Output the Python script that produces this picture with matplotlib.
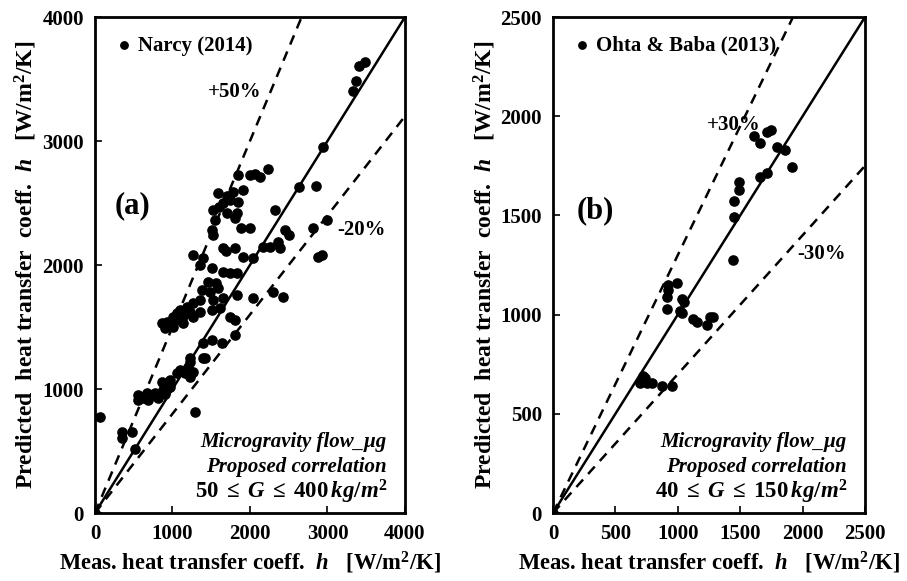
import numpy as np
import matplotlib.pyplot as plt

# Panel (a): Narcy (2014)
narcy_meas = [3484, 3406, 3368, 3329, 2942, 2632, 2852, 2323, 2994, 2813,
              2452, 2503, 1845, 2000, 2129, 2232, 2065, 1587, 1781, 1910,
              1652, 1742, 1845, 1523, 1703, 1832, 1548, 1806, 1510, 1523,
              1884, 2000, 1652, 1806, 2168, 2258, 2361, 2387, 1265, 1394,
              1910, 2039, 2877, 2929, 1355, 1510, 1690, 1652, 1742, 1832,
              1458, 1561, 1381, 1484, 1587, 1832, 1652, 1523, 1355, 1265,
              1187, 1097, 1058, 1006, 929, 865, 903, 1006, 1135, 1265,
              1355, 1510, 1613, 2039, 2297, 2426, 1742, 1806, 1806, 1510,
              1639, 1394, 1226, 1394, 65, 348, 477, 348, 516, 555,
              671, 774, 877, 555, 684, 813, 865, 968, 1058, 1097,
              1200, 1226, 1161, 1226, 1265, 968, 929, 1419, 1290, 0,
              1050, 1150, 1220, 960, 1100, 620, 730, 900, 1600, 1700]
narcy_pred = [3637, 3605, 3484, 3403, 2952, 2629, 2637, 2444, 2363, 2298,
              2282, 2242, 2726, 2726, 2710, 2774, 2734, 2581, 2589, 2605,
              2500, 2524, 2508, 2444, 2419, 2419, 2363, 2379, 2282, 2242,
              2298, 2298, 2137, 2137, 2145, 2145, 2185, 2137, 2081, 2056,
              2065, 2056, 2065, 2081, 2000, 1976, 2110, 1944, 1935, 1935,
              1863, 1855, 1798, 1782, 1815, 1758, 1734, 1718, 1718, 1694,
              1661, 1637, 1613, 1581, 1540, 1532, 1492, 1500, 1532, 1581,
              1621, 1637, 1653, 1734, 1782, 1742, 1581, 1556, 1435, 1395,
              1371, 1371, 1250, 1250, 774, 653, 653, 605, 516, 952,
              968, 968, 992, 911, 911, 927, 1056, 1073, 1129, 1153,
              1177, 1218, 1129, 1097, 1137, 1016, 1048, 1250, 815, 0,
              1560, 1600, 1620, 1520, 1580, 930, 950, 960, 2470, 2560]

# Panel (b): Ohta & Baba (2013)
ohta_meas = [1611, 1659, 1715, 1747, 1795, 1859, 1915, 1659, 1715, 1490,
             1490, 1450, 1450, 1442, 921, 994, 921, 913, 1034, 1050,
             913, 1018, 1034, 1122, 1154, 1234, 1258, 1282, 721, 713,
             697, 753, 793, 873, 954, 737, 0]
ohta_pred = [1900, 1865, 1920, 1930, 1845, 1830, 1744, 1694, 1714, 1668,
             1628, 1573, 1492, 1275, 1149, 1159, 1124, 1089, 1079, 1063,
             1028, 1018, 1008, 978, 963, 948, 988, 988, 691, 670,
             655, 655, 655, 640, 640, 680, 0]

plt.rcParams['font.family'] = 'Liberation Serif'
plt.rcParams['font.weight'] = 'bold'
plt.rcParams['axes.labelweight'] = 'bold'
plt.rcParams['mathtext.fontset'] = 'custom'
plt.rcParams['mathtext.rm'] = 'Liberation Serif:bold'
plt.rcParams['mathtext.it'] = 'Liberation Serif:italic:bold'
plt.rcParams['mathtext.bf'] = 'Liberation Serif:bold'

fig = plt.figure(figsize=(9.07, 5.81), dpi=100)
ax_a = fig.add_axes([0.1047, 0.117, 0.3418, 0.8537])
ax_b = fig.add_axes([0.6097, 0.117, 0.344, 0.8537])

xlab = r"Meas. heat transfer coeff.  $h$   [W/m$^2$/K]"
ylab = r"Predicted  heat transfer  coeff.  $h$   [W/m$^2$/K]"


def setup(ax, lim, step, name, upper, lower, up_lbl, lo_lbl, up_pos, lo_pos,
          tag, tag_pos, grange, xs, ys):
    ax.scatter(xs, ys, s=44, color='black', zorder=3, label=name)
    line = np.array([0, lim])
    ax.plot(line, line, color='black', lw=1.8)
    ax.plot(line, upper * line, color='black', lw=1.8, ls=(0, (4, 3)))
    ax.plot(line, lower * line, color='black', lw=1.8, ls=(0, (4, 3)))
    ax.set_xlim(0, lim)
    ax.set_ylim(0, lim)
    ticks = np.arange(0, lim + 1, step)
    ax.set_xticks(ticks)
    ax.set_yticks(ticks)
    ax.tick_params(direction='in', length=5, width=1.2, labelsize=15, pad=8)
    for sp in ax.spines.values():
        sp.set_linewidth(2)
    ax.set_xlabel(xlab, fontsize=16.3, labelpad=4)
    ax.set_ylabel(ylab, fontsize=17, labelpad=2)
    ax.legend(loc='upper left', frameon=False,
              prop={'weight': 'bold', 'size': 15, 'family': 'Liberation Serif'},
              handlelength=1.0, handletextpad=0.15,
              markerscale=0.8, borderaxespad=0.5)
    ax.text(up_pos[0], up_pos[1], up_lbl, transform=ax.transAxes, fontsize=15,
            ha='center', va='center')
    ax.text(lo_pos[0], lo_pos[1], lo_lbl, transform=ax.transAxes, fontsize=15,
            ha='center', va='center')
    ax.text(tag_pos[0], tag_pos[1], tag, transform=ax.transAxes, fontsize=22,
            ha='center', va='center')
    ax.text(0.94, 0.143, "Microgravity flow_\u03bcg", transform=ax.transAxes,
            fontsize=15, style='italic', ha='right', va='center')
    ax.text(0.94, 0.093, "Proposed correlation", transform=ax.transAxes,
            fontsize=15, style='italic', ha='right', va='center')
    ax.text(0.945, 0.042, grange, transform=ax.transAxes, fontsize=16.5,
            ha='right', va='center')


setup(ax_a, 4000, 1000, "Narcy (2014)", 1.5, 0.8, "+50%", "-20%",
      (0.45, 0.848), (0.86, 0.57), "(a)", (0.12, 0.62),
      r"$50\;\leq\;G\;\leq\;400\,kg/m^2$", narcy_meas, narcy_pred)
setup(ax_b, 2500, 500, "Ohta & Baba (2013)", 1.3, 0.7, "+30%", "-30%",
      (0.58, 0.782), (0.86, 0.523), "(b)", (0.135, 0.61),
      r"$40\;\leq\;G\;\leq\;150\,kg/m^2$", ohta_meas, ohta_pred)

fig.savefig("out.png", dpi=100)
